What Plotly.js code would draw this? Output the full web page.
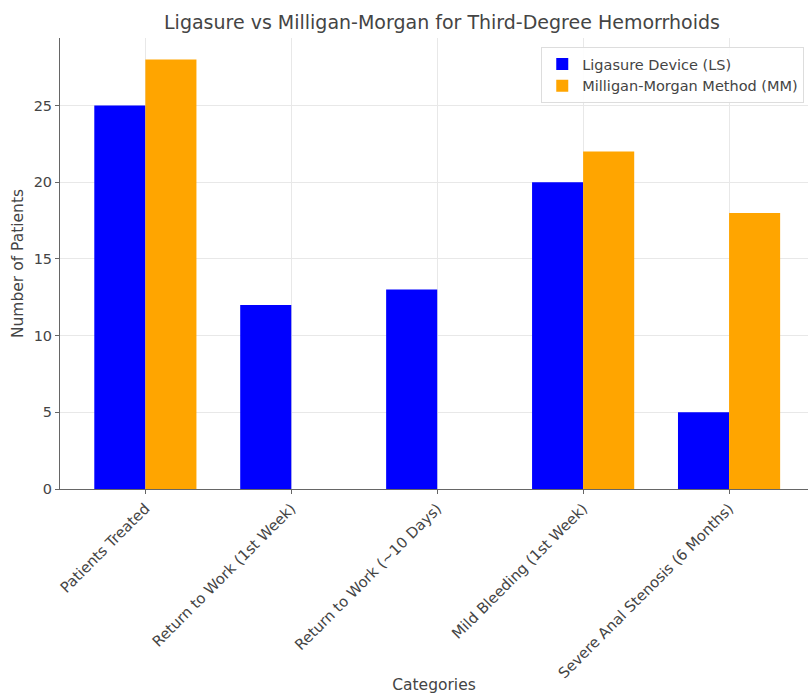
<!DOCTYPE html>
<html>
<head>
<meta charset="utf-8">
<script src="https://cdn.plot.ly/plotly-3.0.1.min.js"></script>
<style>html,body{margin:0;padding:0;background:#fff;}#chart{width:808px;height:694px;}</style>
</head>
<body>
<div id="chart"></div>
<script>
const categories = [
  "Patients Treated",
  "Return to Work (1st Week)",
  "Return to Work (~10 Days)",
  "Mild Bleeding (1st Week)",
  "Severe Anal Stenosis (6 Months)"
];
const lsValues = [25, 12, 13, 20, 5];
const mmValues = [28, 0, 0, 22, 18];
const yTicks = [0, 5, 10, 15, 20, 25];

const font = "DejaVu Sans, Liberation Sans, sans-serif";
const traces = [
  {type: "bar", name: "Ligasure Device (LS)", x: categories, y: lsValues, marker: {color: "#0000ff"}},
  {type: "bar", name: "Milligan-Morgan Method (MM)", x: categories, y: mmValues, marker: {color: "#ffa500"}}
];
const layout = {
  width: 808, height: 694,
  margin: {l: 60, r: 0, t: 38, b: 205},
  paper_bgcolor: "#fff", plot_bgcolor: "#fff",
  font: {family: font, size: 15, color: "#444"},
  barmode: "group", bargap: 0.3, bargroupgap: 0,
  title: {text: "Ligasure vs Milligan-Morgan for Third-Degree Hemorrhoids", font: {size: 19, color: "#444"}, xref: "container", x: 0.547, xanchor: "center", y: 0.968, yanchor: "middle"},
  xaxis: {
    type: "category", range: [-0.585, 4.541], automargin: false,
    tickangle: -45, showgrid: true, gridcolor: "#e8e8e8",
    showline: true, linecolor: "#666", linewidth: 1,
    ticks: "outside", ticklen: 4, tickcolor: "#666",
    tickfont: {size: 14.8},
    title: {text: "Categories", font: {size: 15.5}, standoff: 6}
  },
  yaxis: {
    range: [0, 29.4], tickvals: yTicks, ticktext: yTicks.map(String), automargin: false,
    showgrid: true, gridcolor: "#e8e8e8", zeroline: false,
    showline: true, linecolor: "#666", linewidth: 1,
    ticks: "outside", ticklen: 4, tickcolor: "#666",
    tickfont: {size: 14.5},
    title: {text: "Number of Patients", font: {size: 15.5}, standoff: 6}
  },
  legend: {x: 0.995, xanchor: "right", y: 0.98, yanchor: "top", bgcolor: "rgba(255,255,255,0.9)", bordercolor: "#ddd", borderwidth: 1, font: {size: 14.5}}
};
Plotly.newPlot("chart", traces, layout, {displayModeBar: false, staticPlot: true});
</script>
</body>
</html>
